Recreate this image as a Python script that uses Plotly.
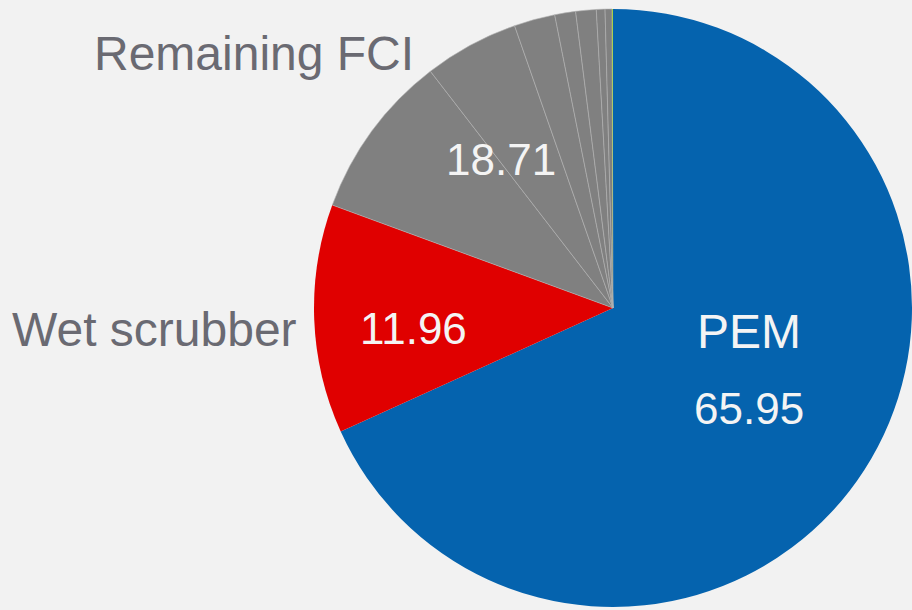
import plotly.graph_objects as go

W, H = 912, 610

# Data
labels = ["PEM", "Wet scrubber", "FCI 1", "FCI 2", "FCI 3", "FCI 4", "FCI 5", "FCI 6", "FCI 7", "Other"]
values = [65.95, 11.96, 8.65, 4.95, 2.14, 1.09, 1.07, 0.45, 0.36, 0.05]
colors = ["#0563ae", "#e00000"] + ["#808080"] * 7 + ["#a6d040"]
line_widths = [0, 0] + [0.6] * 7 + [0]

group_labels = ["PEM", "Wet scrubber", "Remaining FCI"]
group_values = [65.95, 11.96, 18.71]

fig = go.Figure()
fig.add_trace(go.Pie(
    labels=labels,
    values=values,
    sort=False,
    direction="clockwise",
    rotation=0,
    textinfo="none",
    hoverinfo="label+value",
    marker=dict(colors=colors, line=dict(color="#b4b4b4", width=line_widths)),
    domain=dict(x=[314 / W, 1.0], y=[2 / H, 1 - 8 / H]),
    showlegend=False,
))


def px(x, y):
    return x / W, 1 - y / H


def add_text(text, x, y, size, color):
    xx, yy = px(x, y)
    fig.add_annotation(text=text, x=xx, y=yy, xref="paper", yref="paper",
                       xanchor="center", yanchor="middle", showarrow=False,
                       font=dict(family="Liberation Sans, Arial, sans-serif", size=size, color=color))


label_color = "#6a6a72"
value_color = "#f4f4f4"
add_text(group_labels[2], 254, 53, 48, label_color)
add_text(group_labels[1], 154, 329, 48, label_color)
add_text(group_labels[0], 749, 331, 48, value_color)
add_text(f"{group_values[0]:.2f}", 749, 408, 44, value_color)
add_text(f"{group_values[1]:.2f}", 413, 328, 44, value_color)
add_text(f"{group_values[2]:.2f}", 501, 159, 44, value_color)

fig.update_layout(
    width=W, height=H,
    margin=dict(l=0, r=0, t=0, b=0),
    paper_bgcolor="#f2f2f2",
    plot_bgcolor="#f2f2f2",
)

fig.write_html("out.html", config={"displayModeBar": False},
               post_script="document.body.style.margin='0';")
